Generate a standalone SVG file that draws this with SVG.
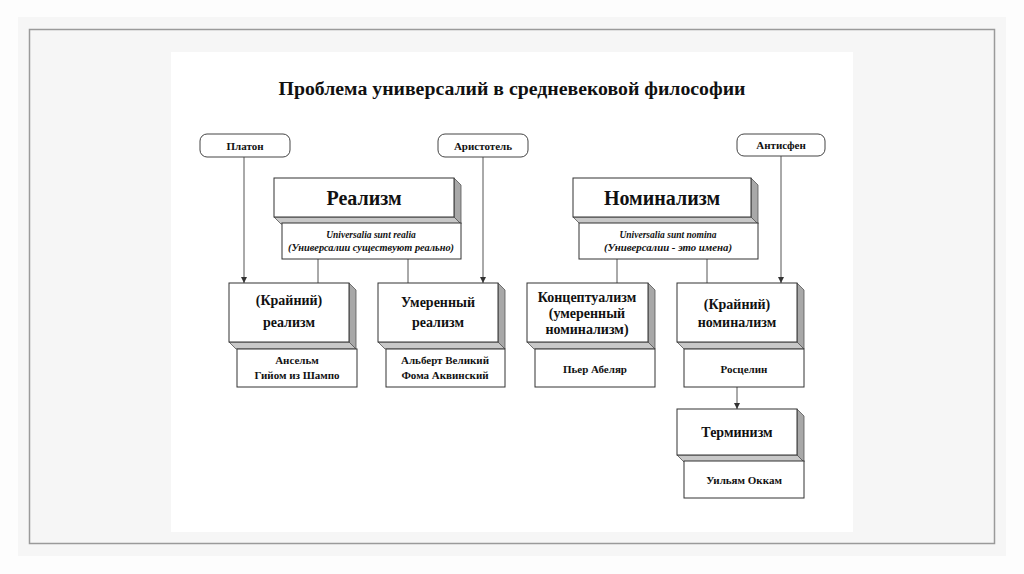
<svg xmlns="http://www.w3.org/2000/svg" width="1024" height="574" viewBox="0 0 1024 574">
<defs>
<style>
.t{font-family:"Liberation Serif","Times New Roman",serif;font-weight:bold;fill:#111;text-anchor:middle}
.big{font-size:20px}
.mid{font-size:14px}
.sm{font-size:11px}
.it{font-size:9.5px;font-style:italic}
.face{fill:#fff;stroke:#333;stroke-width:1}
.side{fill:#a8a8a8;stroke:#555;stroke-width:0.8}
.bot{fill:#c8c8c8;stroke:#555;stroke-width:0.8}
.sub{fill:#fff;stroke:#333;stroke-width:1}
.pill{fill:#fff;stroke:#444;stroke-width:1}
.ln{stroke:#555;stroke-width:1;fill:none}
</style>
<marker id="ar" viewBox="0 0 10 10" refX="10" refY="5" markerWidth="6" markerHeight="6" orient="auto" markerUnits="userSpaceOnUse">
<path d="M0,0 L10,5 L0,10 z" fill="#333"/>
</marker>
</defs>
<rect width="1024" height="574" fill="#fdfdfd"/>
<rect x="18" y="17" width="988" height="539" fill="#f6f6f6"/>
<rect x="29.5" y="29.5" width="965" height="514" fill="#f6f6f6" stroke="#9a9a9a" stroke-width="1.5"/>
<rect x="171" y="52" width="682" height="480" fill="#fff"/>
<text id="title" class="t" x="512" y="95" font-size="18" textLength="467" lengthAdjust="spacingAndGlyphs">Проблема универсалий в средневековой философии</text>

<g id="connectors">
<line class="ln" x1="244" y1="157" x2="244" y2="283" marker-end="url(#ar)"/>
<line class="ln" x1="483" y1="157" x2="483" y2="283" marker-end="url(#ar)"/>
<line class="ln" x1="781" y1="155" x2="781" y2="283" marker-end="url(#ar)"/>
<line class="ln" x1="318" y1="259" x2="318" y2="283"/>
<line class="ln" x1="408" y1="259" x2="408" y2="283"/>
<line class="ln" x1="617" y1="259" x2="617" y2="283"/>
<line class="ln" x1="707" y1="259" x2="707" y2="283"/>
<line class="ln" x1="737" y1="387" x2="737" y2="409" marker-end="url(#ar)"/>
</g>

<g id="platon">
<rect class="pill" x="200" y="134" width="90" height="23" rx="7"/>
<text class="t sm" x="245" y="149.5">Платон</text>
</g>
<g id="aristotel">
<rect class="pill" x="438" y="134" width="90" height="23" rx="7"/>
<text class="t sm" x="483" y="149.5">Аристотель</text>
</g>
<g id="antisfen">
<rect class="pill" x="737" y="134" width="88" height="22" rx="7"/>
<text class="t sm" x="781" y="149">Антисфен</text>
</g>

<g id="realizm">
<polygon class="side" points="454,178 461,185 461,224 454,217"/>
<polygon class="bot" points="274,217 454,217 461,224 281,224"/>
<rect class="face" x="274" y="178" width="180" height="39"/>
<text class="t big" x="364" y="205">Реализм</text>
<rect class="sub" x="282" y="223" width="179" height="36"/>
<text class="t it" x="371" y="238">Universalia sunt realia</text>
<text class="t it" x="371" y="251" textLength="166" lengthAdjust="spacingAndGlyphs">(Универсалии существуют реально)</text>
</g>

<g id="nominalizm">
<polygon class="side" points="751,178 758,185 758,224 751,217"/>
<polygon class="bot" points="573,217 751,217 758,224 580,224"/>
<rect class="face" x="573" y="178" width="178" height="39"/>
<text class="t big" x="662" y="205">Номинализм</text>
<rect class="sub" x="579" y="223" width="179" height="36"/>
<text class="t it" x="668" y="238">Universalia sunt nomina</text>
<text class="t it" x="668" y="251" textLength="128" lengthAdjust="spacingAndGlyphs">(Универсалии - это имена)</text>
</g>

<g id="krainiy-realizm">
<polygon class="side" points="349,283 356,290 356,349 349,342"/>
<polygon class="bot" points="229,342 349,342 356,349 236,349"/>
<rect class="face" x="229" y="283" width="120" height="59"/>
<text class="t mid" x="289" y="305">(Крайний)</text>
<text class="t mid" x="289" y="327">реализм</text>
<rect class="sub" x="237" y="349" width="120" height="38"/>
<text class="t sm" x="297" y="364">Ансельм</text>
<text class="t sm" x="297" y="379">Гийом из Шампо</text>
</g>

<g id="umerenny-realizm">
<polygon class="side" points="498,283 505,290 505,349 498,342"/>
<polygon class="bot" points="378,342 498,342 505,349 385,349"/>
<rect class="face" x="378" y="283" width="120" height="59"/>
<text class="t mid" x="438" y="307">Умеренный</text>
<text class="t mid" x="438" y="327">реализм</text>
<rect class="sub" x="386" y="349" width="119" height="38"/>
<text class="t sm" x="445" y="364">Альберт Великий</text>
<text class="t sm" x="445" y="379">Фома Аквинский</text>
</g>

<g id="konceptualizm">
<polygon class="side" points="648,283 655,290 655,349 648,342"/>
<polygon class="bot" points="527,342 648,342 655,349 534,349"/>
<rect class="face" x="527" y="283" width="121" height="59"/>
<text class="t mid" x="587" y="302">Концептуализм</text>
<text class="t mid" x="587" y="318">(умеренный</text>
<text class="t mid" x="587" y="334">номинализм)</text>
<rect class="sub" x="535" y="349" width="120" height="38"/>
<text class="t sm" x="595" y="373">Пьер Абеляр</text>
</g>

<g id="krainiy-nominalizm">
<polygon class="side" points="797,283 804,290 804,349 797,342"/>
<polygon class="bot" points="677,342 797,342 804,349 684,349"/>
<rect class="face" x="677" y="283" width="120" height="59"/>
<text class="t mid" x="737" y="309">(Крайний)</text>
<text class="t mid" x="737" y="327">номинализм</text>
<rect class="sub" x="684" y="349" width="120" height="38"/>
<text class="t sm" x="744" y="373">Росцелин</text>
</g>

<g id="terminizm">
<polygon class="side" points="797,409 804,416 804,462 797,455"/>
<polygon class="bot" points="677,455 797,455 804,462 684,462"/>
<rect class="face" x="677" y="409" width="120" height="46"/>
<text class="t mid" x="737" y="437">Терминизм</text>
<rect class="sub" x="684" y="461" width="120" height="37"/>
<text class="t sm" x="744" y="484">Уильям Оккам</text>
</g>
</svg>
